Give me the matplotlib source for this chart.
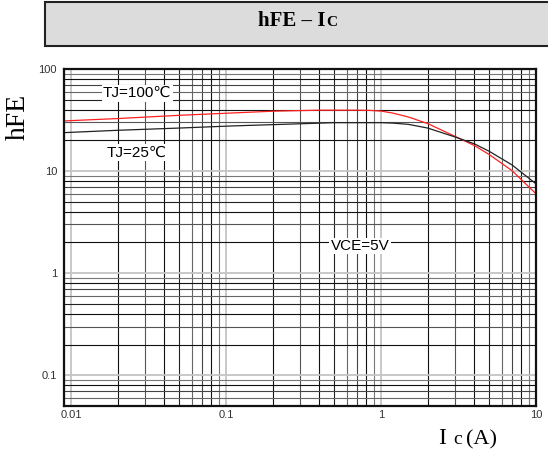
import matplotlib
matplotlib.use("Agg")
import matplotlib.pyplot as plt
from matplotlib.patches import Rectangle

# ====== Data ======
ic_100 = [0.009, 0.02, 0.05, 0.11, 0.2, 0.4, 0.7, 0.85, 1.0, 1.18, 1.5, 2, 3, 4, 5, 7, 10]
hfe_100 = [31.0, 32.7, 35.2, 37.1, 38.6, 39.5, 39.5, 39.3, 38.7, 37.1, 33.9, 29.2, 21.9, 17.8, 14.5, 10.1, 6.0]

ic_25 = [0.009, 0.02, 0.05, 0.11, 0.2, 0.5, 1.0, 1.2, 1.5, 2, 3, 4, 5, 7, 10]
hfe_25 = [23.8, 25.1, 26.4, 27.7, 28.5, 29.8, 29.8, 29.5, 28.7, 26.4, 21.6, 18.5, 15.6, 11.5, 7.5]

x_ticks = [0.01, 0.1, 1, 10]
x_labels = ["0.01", "0.1", "1", "10"]
y_ticks = [0.1, 1, 10, 100]
y_labels = ["0.1", "1", "10", "100"]

W, H = 548, 453


def fx(px):
    return px / W


def fy(py):
    return 1 - py / H


fig = plt.figure(figsize=(W / 100, H / 100), dpi=100)

# title box
fig.patches.append(Rectangle((fx(45), fy(46)), fx(520), 44 / H, transform=fig.transFigure,
                             facecolor="#dcdcdc", edgecolor="#222222", linewidth=1.5))
fig.text(fx(325), fy(26), "hFE – I", ha="right", va="baseline", fontsize=15,
         fontweight="bold", family="Liberation Serif")
fig.text(fx(326), fy(26), "C", ha="left", va="baseline", fontsize=11,
         fontweight="bold", family="Liberation Serif")

ax = fig.add_axes([fx(64), fy(406), fx(536) - fx(64), (406 - 69) / H])
ax.set_xscale("log")
ax.set_yscale("log")
ax.set_xlim(0.009, 10)
ax.set_ylim(0.05, 100)

# ====== Grid ======
minor_col = {2: "#111111", 3: "#555555", 4: "#111111", 5: "#222222",
             6: "#666666", 7: "#444444", 8: "#111111", 9: "#777777"}
for dec in [0.001, 0.01, 0.1, 1]:
    for m in range(1, 10):
        v = dec * m
        if 0.009 <= v <= 10:
            if m == 1:
                ax.axvline(v, color="#c4c4c4", lw=1.3, zorder=1)
            else:
                ax.axvline(v, color=minor_col[m], lw=0.8, zorder=1)
for dec in [0.01, 0.1, 1, 10]:
    for m in range(1, 10):
        v = dec * m
        if 0.05 <= v <= 100:
            if m == 1:
                ax.axhline(v, color="#c4c4c4", lw=1.3, zorder=1)
            else:
                ax.axhline(v, color=minor_col[m], lw=0.8, zorder=1)

# ====== Curves ======
ax.plot(ic_100, hfe_100, color="#ff2020", lw=0.9, zorder=3)
ax.plot(ic_25, hfe_25, color="#222222", lw=0.9, zorder=3)

lab_font = ["Liberation Sans", "DejaVu Sans"]
box = dict(facecolor="white", edgecolor="none", pad=1.0)
ax.text(0.0267, 58, "TJ=100℃", ha="center", va="center", fontsize=11,
        family=lab_font, bbox=box, zorder=4)
ax.text(0.0264, 15.2, "TJ=25℃", ha="center", va="center", fontsize=11,
        family=lab_font, bbox=box, zorder=4)
ax.text(0.733, 1.85, "VCE=5V", ha="center", va="center", fontsize=11,
        family=lab_font, bbox=box, zorder=4)

# ====== Axes styling ======
ax.set_xticks(x_ticks)
ax.set_xticklabels(x_labels)
ax.set_yticks(y_ticks)
ax.set_yticklabels(y_labels)
ax.minorticks_off()
ax.tick_params(length=0, labelsize=8, labelcolor="#333333")
ax.tick_params(axis="x", pad=3)
ax.tick_params(axis="y", pad=5)
for t in ax.get_xticklabels() + ax.get_yticklabels():
    t.set_family("Liberation Sans")
for s in ax.spines.values():
    s.set_linewidth(1.6)
    s.set_color("#111111")
    s.set_zorder(5)

fig.text(fx(18), fy(117), "hFE", rotation=90, ha="center", va="center",
         fontsize=20, family="Liberation Serif")
fig.text(fx(438), fy(444), "I", ha="left", va="baseline", fontsize=17,
         family="Liberation Serif")
fig.text(fx(453), fy(444), "c", ha="left", va="baseline", fontsize=14,
         family="Liberation Serif")
fig.text(fx(466), fy(444), "(A)", ha="left", va="baseline", fontsize=16,
         family="Liberation Serif")

fig.savefig("out.png", dpi=100)
